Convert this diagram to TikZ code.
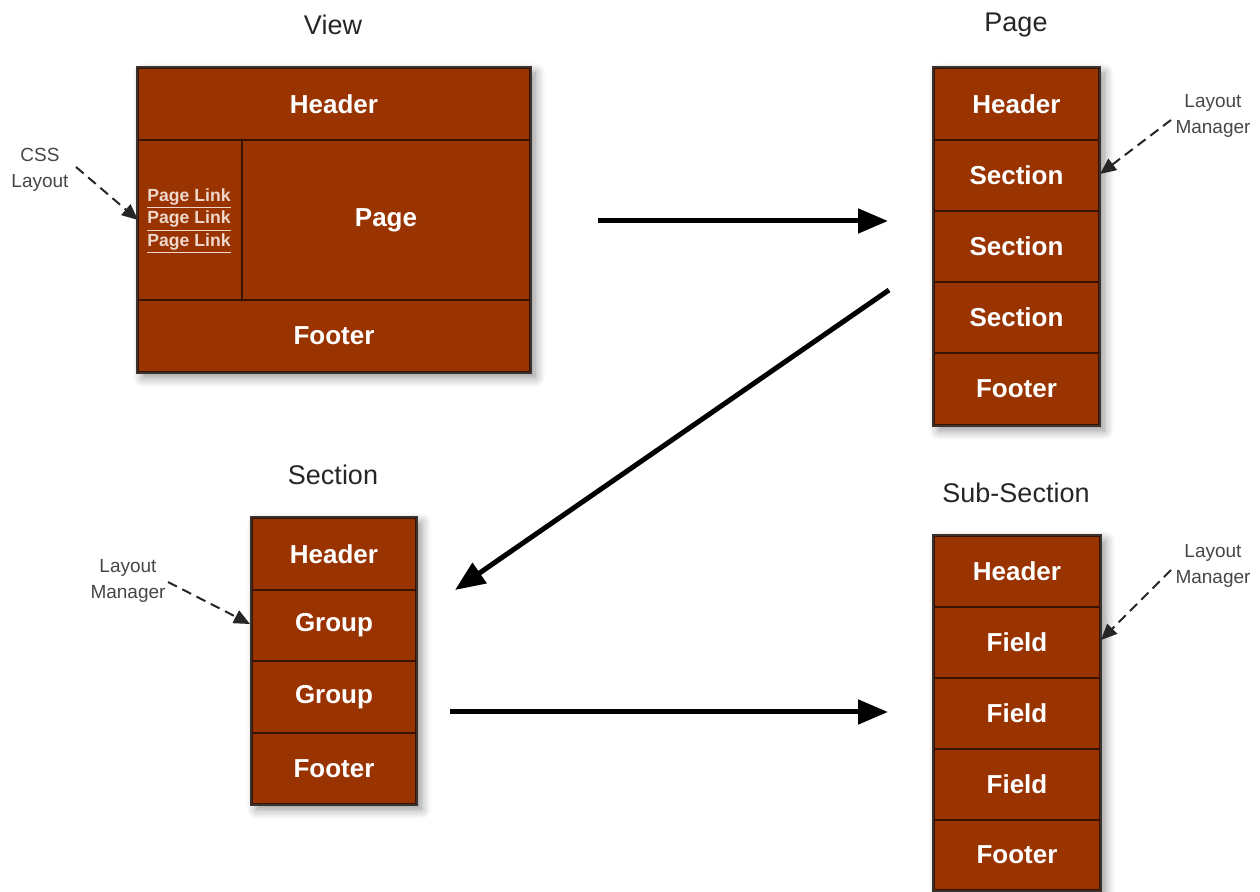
\documentclass[tikz,border=0pt]{standalone}
\usepackage{fontspec}
\setmainfont{Liberation Sans}
\usetikzlibrary{arrows.meta,shadows.blur}
\definecolor{brick}{RGB}{153,51,0}
\definecolor{rowedge}{RGB}{55,18,0}
\definecolor{outedge}{RGB}{60,50,45}
\definecolor{linkcol}{RGB}{240,215,205}
\definecolor{annot}{RGB}{70,70,70}
\tikzset{
  box/.style={fill=brick, draw=outedge, line width=1pt, inner sep=0pt,
    blur shadow={shadow xshift=2.5pt, shadow yshift=-2.5pt, shadow blur steps=8, shadow blur radius=5pt, shadow opacity=45}},
  cell/.style={fill=brick, draw=rowedge, line width=0.9pt, inner sep=0pt, text=white,
    font=\bfseries\fontsize{13}{15}\selectfont},
  title/.style={font=\fontsize{13.5}{15}\selectfont, text=black!85},
  note/.style={font=\fontsize{9.5}{13}\selectfont, text=annot, align=center},
  bigarrow/.style={line width=2.5pt, -{Triangle[length=15pt,width=12pt]}},
  dasharrow/.style={line width=1pt, dash pattern=on 5pt off 3pt, draw=black!85,
    -{Triangle[length=8pt,width=7pt]}},
}
\begin{document}
\begin{tikzpicture}[x=0.5pt,y=-0.5pt]
\useasboundingbox (0,0) rectangle (1260,892);

% ---------------- View ----------------
\node[title] (tview) at (333,25) {View};
\node[box, minimum width=196pt, minimum height=152pt] (view) at (334,220) {};
\node[cell, minimum width=196pt, minimum height=36pt] (vhead) at (334,104) {Header};
\node[cell, minimum width=52pt, minimum height=80pt] (vlinks) at (190,220) {};
\node[cell, minimum width=144pt, minimum height=80pt] (vpage) at (386,220) {Page};
\node[cell, minimum width=196pt, minimum height=36pt] (vfoot) at (334,336) {Footer};
\node[text=linkcol, font=\bfseries\fontsize{8.8}{11.25}\selectfont, align=center, inner sep=0pt] (links) at (189,221)
  {\underline{Page Link}\\\underline{Page Link}\\\underline{Page Link}};
\draw[line width=1pt, draw=outedge] (view.north west) rectangle (view.south east);

% ---------------- Page ----------------
\node[title] (tpage) at (1016,25) {Page};
\node[box, minimum width=82.5pt, minimum height=178.5pt] (page) at (1016.5,246.5) {};
\node[cell, minimum width=82.5pt, minimum height=36pt] (p1) at (1016.5,104) {Header};
\node[cell, minimum width=82.5pt, minimum height=35.5pt] (p2) at (1016.5,175.5) {Section};
\node[cell, minimum width=82.5pt, minimum height=35.5pt] (p3) at (1016.5,246.5) {Section};
\node[cell, minimum width=82.5pt, minimum height=35.5pt] (p4) at (1016.5,317.5) {Section};
\node[cell, minimum width=82.5pt, minimum height=36pt] (p5) at (1016.5,389) {Footer};
\draw[line width=1pt, draw=outedge] (page.north west) rectangle (page.south east);

% ---------------- Section ----------------
\node[title] (tsection) at (333,475) {Section};
\node[box, minimum width=82pt, minimum height=143pt] (sec) at (334,661) {};
\node[cell, minimum width=82pt, minimum height=36pt] (s1) at (334,554) {Header};
\node[cell, minimum width=82pt, minimum height=35.5pt] (s2) at (334,625.5) {Group};
\node[cell, minimum width=82pt, minimum height=36pt] (s3) at (334,697) {Group};
\node[cell, minimum width=82pt, minimum height=35.5pt] (s4) at (334,768.5) {Footer};
\draw[line width=1pt, draw=outedge] (sec.north west) rectangle (sec.south east);

% ---------------- Sub-Section ----------------
\node[title] (tsub) at (1016,493) {Sub-Section};
\node[box, minimum width=83pt, minimum height=177pt] (sub) at (1017,713) {};
\node[cell, minimum width=83pt, minimum height=35.5pt] (u1) at (1017,571.5) {Header};
\node[cell, minimum width=83pt, minimum height=35.5pt] (u2) at (1017,642.5) {Field};
\node[cell, minimum width=83pt, minimum height=35.5pt] (u3) at (1017,713.5) {Field};
\node[cell, minimum width=83pt, minimum height=35.5pt] (u4) at (1017,784.5) {Field};
\node[cell, minimum width=83pt, minimum height=35pt] (u5) at (1017,855) {Footer};
\draw[line width=1pt, draw=outedge] (sub.north west) rectangle (sub.south east);

% ---------------- Big arrows ----------------
\coordinate (a1s) at (598,221);
\coordinate (a1e) at (888,221);
\coordinate (a2s) at (889,290);
\coordinate (a2e) at (455,590);
\coordinate (a3s) at (450,712);
\coordinate (a3e) at (888,712);
\draw[bigarrow] (a1s) -- (a1e);
\draw[bigarrow] (a2s) -- (a2e);
\draw[bigarrow] (a3s) -- (a3e);

% ---------------- Annotations ----------------
\node[note] (ncss) at (40,170) {CSS\\Layout};
\coordinate (ncsss) at (76,167);
\coordinate (ncsst) at (138,220);
\draw[dasharrow] (ncsss) -- (ncsst);

\node[note] (nlm1) at (1213,116) {Layout\\Manager};
\coordinate (nlm1s) at (1171,120);
\coordinate (nlm1t) at (1100,174);
\draw[dasharrow] (nlm1s) -- (nlm1t);

\node[note] (nlm2) at (128,581) {Layout\\Manager};
\coordinate (nlm2s) at (168,582);
\coordinate (nlm2t) at (250,624);
\draw[dasharrow] (nlm2s) -- (nlm2t);

\node[note] (nlm3) at (1213,566) {Layout\\Manager};
\coordinate (nlm3s) at (1171,570);
\coordinate (nlm3t) at (1101,640);
\draw[dasharrow] (nlm3s) -- (nlm3t);
\end{tikzpicture}
\end{document}
